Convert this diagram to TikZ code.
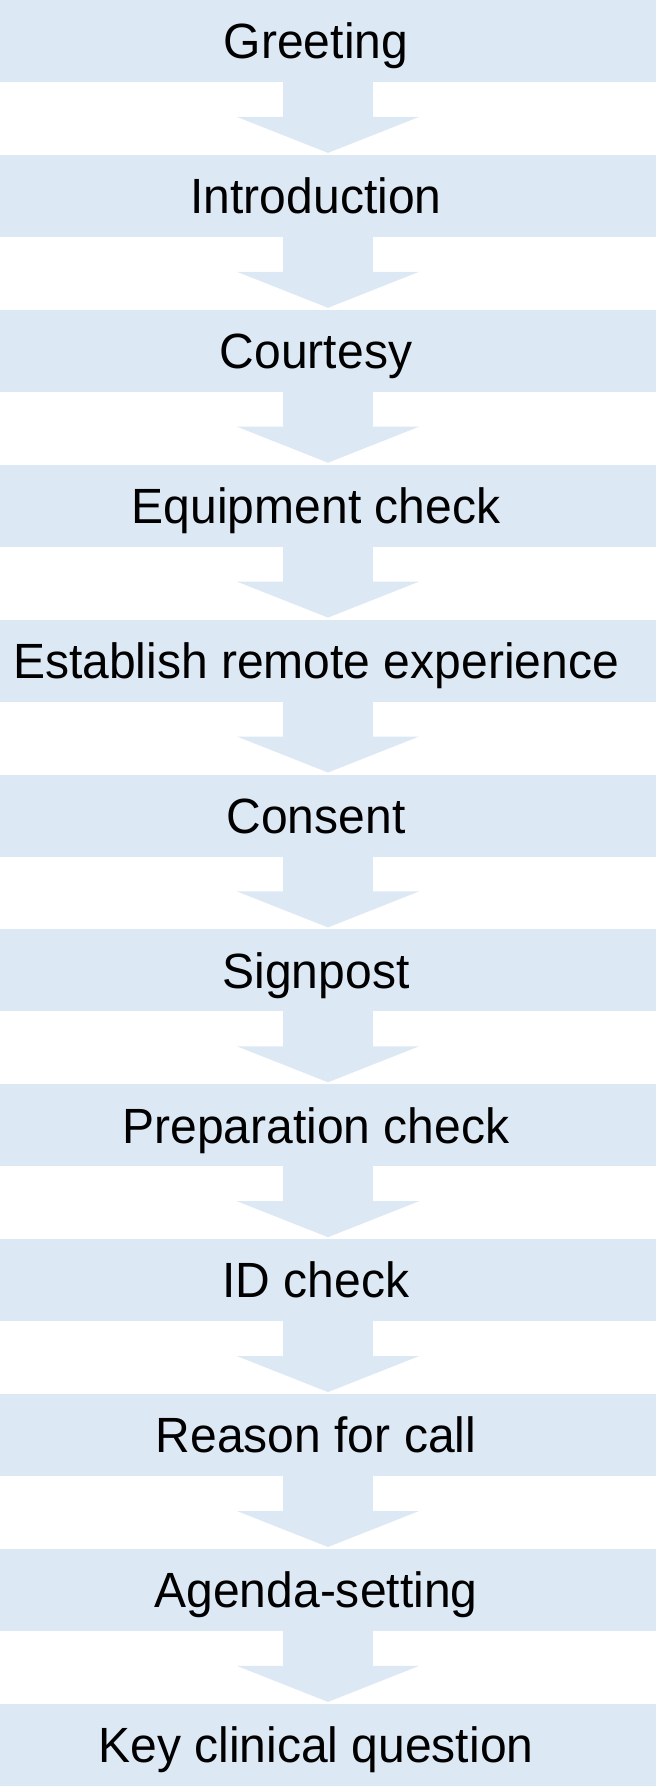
\documentclass[tikz,border=0pt]{standalone}
\usepackage{fontspec}
\setmainfont{Liberation Sans}
\usetikzlibrary{positioning}
\usetikzlibrary{arrows.meta}
\definecolor{stagefill}{RGB}{221,232,245}

\begin{document}
\begin{tikzpicture}
[x=1pt,y=1pt,
 stage/.style={shape=rectangle,fill=stagefill,minimum width=656pt,minimum height=82pt,
   inner sep=0pt,outer sep=0pt,
   label={[xshift=-12pt,inner sep=0pt,text height=35.4pt,text depth=0pt,
           transform shape,xscale=0.97,
           font=\fontsize{49.5}{59}\selectfont]center:#1}},
 flow/.style={draw=stagefill,line width=90pt,shorten >=2pt,
   -{Triangle[width=181pt,length=36pt]}}]

\useasboundingbox (0,0) rectangle (656,-1786);

\node (greet) at (328,-41) [stage=Greeting] {};
\node (intro) [stage=Introduction,below=72.9pt of greet] {};
\node (court) [stage=Courtesy,below=72.9pt of intro] {};
\node (equip) [stage=Equipment check,below=72.9pt of court] {};
\node (remote) [stage=Establish remote experience,below=72.9pt of equip] {};
\node (consent) [stage=Consent,below=72.9pt of remote] {};
\node (sign) [stage=Signpost,below=72.9pt of consent] {};
\node (prep) [stage=Preparation check,below=72.9pt of sign] {};
\node (ident) [stage=ID check,below=72.9pt of prep] {};
\node (reason) [stage=Reason for call,below=72.9pt of ident] {};
\node (agenda) [stage=Agenda-setting,below=72.9pt of reason] {};
\node (key) [stage=Key clinical question,below=72.9pt of agenda] {};

\draw [flow] (greet) -- (intro);
\draw [flow] (intro) -- (court);
\draw [flow] (court) -- (equip);
\draw [flow] (equip) -- (remote);
\draw [flow] (remote) -- (consent);
\draw [flow] (consent) -- (sign);
\draw [flow] (sign) -- (prep);
\draw [flow] (prep) -- (ident);
\draw [flow] (ident) -- (reason);
\draw [flow] (reason) -- (agenda);
\draw [flow] (agenda) -- (key);

\end{tikzpicture}
\end{document}
